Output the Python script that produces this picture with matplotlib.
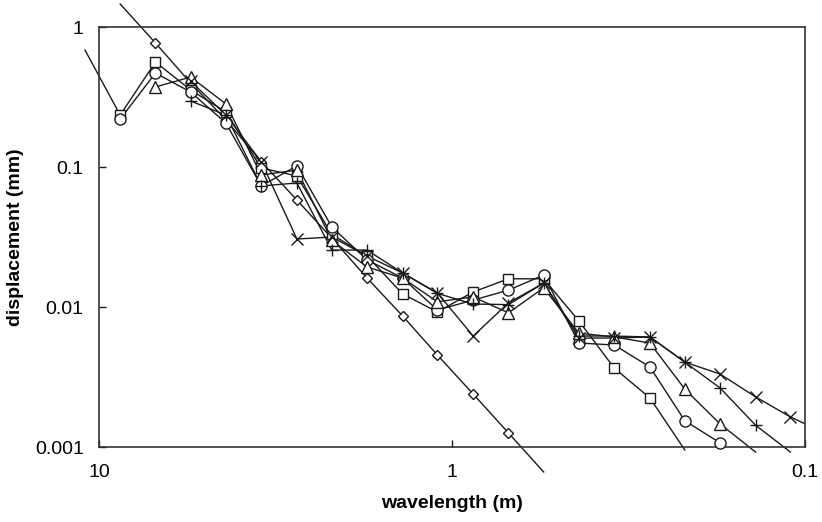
"""
Displacement spectra per third-octave wavelength band, log-log with the
wavelength axis running from long to short.
"""

import matplotlib
matplotlib.use("Agg")

import matplotlib.pyplot as plt
import numpy as np
from matplotlib.transforms import Bbox, TransformedBbox

nan = np.nan

# band centre wavelengths (m); the first and last bands fall just outside the axis range
wavelength = [10.96, 8.71, 6.92, 5.50, 4.37, 3.47, 2.75, 2.19, 1.74, 1.38, 1.10,
              0.871, 0.692, 0.550, 0.437, 0.347, 0.275, 0.219, 0.174, 0.138,
              0.110, 0.0871]

# displacement (mm) per band, NaN where a series has no value
disp_diamond = [nan, 1.46, 0.769, 0.398, 0.217, 0.109, 0.0581, 0.0310, 0.0161,
                0.00863, 0.00454, 0.00239, 0.00126, 0.000663,
                nan, nan, nan, nan, nan, nan, nan, nan]
disp_square = [0.685, 0.235, 0.562, 0.355, 0.247, 0.0984, 0.0863, 0.033, 0.0231,
               0.0124, 0.00922, 0.0128, 0.0159, 0.0159, 0.00794, 0.00366,
               0.00224, 0.000952, nan, nan, nan, nan]
disp_circle = [nan, 0.220, 0.469, 0.343, 0.206, 0.0732, 0.102, 0.0373, 0.0217,
               0.0161, 0.00952, 0.0112, 0.0132, 0.0169, 0.00553, 0.00535,
               0.00373, 0.00154, 0.00107, nan, nan, nan]
disp_triangle = [nan, nan, 0.373, 0.439, 0.282, 0.0877, 0.095, 0.030, 0.0193,
                 0.0161, 0.0109, 0.0118, 0.00908, 0.0137, 0.0065, 0.00611,
                 0.00553, 0.00259, 0.00146, 0.00092, nan, nan]
disp_plus = [nan, nan, nan, 0.296, 0.235, 0.0732, 0.0769, 0.0255, 0.0255,
             0.0175, 0.0125, 0.0105, 0.0104, 0.0148, 0.00621, 0.0062,
             0.00611, 0.00404, 0.00264, 0.00143, 0.00092, nan]
disp_cross = [nan, nan, nan, 0.41, 0.235, 0.109, 0.0306, 0.0316, 0.0231,
              0.0175, 0.0126, 0.0062, 0.0107, 0.0148, 0.0060, 0.0060,
              0.00611, 0.00404, 0.00332, 0.00228, 0.00164, 0.00124]

series = [
    (disp_diamond, "D", 5.5),
    (disp_square, "s", 7.5),
    (disp_circle, "o", 8),
    (disp_triangle, "^", 8),
    (disp_plus, "+", 9),
    (disp_cross, "x", 8),
]

x_ticks = [10, 1, 0.1]
x_tick_labels = ["10", "1", "0.1"]
y_ticks = [0.001, 0.01, 0.1, 1]
y_tick_labels = ["0.001", "0.01", "0.1", "1"]

plt.rcParams["font.family"] = ["Liberation Sans", "DejaVu Sans"]

INK = "#1a1a1a"

fig = plt.figure(figsize=(8.22, 5.22), dpi=100)
ax = fig.add_axes([99 / 822, 1 - 447 / 522, 706 / 822, 420 / 522])
ax.set_xscale("log")
ax.set_yscale("log")
ax.set_xlim(10, 0.1)
ax.set_ylim(0.001, 1)

# lines run on to out-of-range band values, but stop at the right frame edge
fig.canvas.draw()
x_right = ax.get_position().x1
line_clip = TransformedBbox(Bbox([[0, 0], [x_right, 1]]), fig.transFigure)

wl = np.array(wavelength)
for values, marker, size in series:
    d = np.array(values, dtype=float)
    ok = ~np.isnan(d)
    line, = ax.plot(wl[ok], d[ok], color=INK, linewidth=1.0, zorder=2)
    line.set_clip_box(line_clip)

    # markers only for points inside the plotted range
    inside = ok & (d >= 0.001) & (d <= 1) & (wl <= 10) & (wl >= 0.1)
    ax.plot(wl[inside], d[inside], linestyle="none", marker=marker,
            markersize=size, markerfacecolor="white", markeredgecolor=INK,
            markeredgewidth=1.0, clip_on=False, zorder=3)

ax.xaxis.set_major_locator(matplotlib.ticker.FixedLocator(x_ticks))
ax.xaxis.set_major_formatter(matplotlib.ticker.FixedFormatter(x_tick_labels))
ax.yaxis.set_major_locator(matplotlib.ticker.FixedLocator(y_ticks))
ax.yaxis.set_major_formatter(matplotlib.ticker.FixedFormatter(y_tick_labels))
ax.xaxis.set_minor_locator(matplotlib.ticker.NullLocator())
ax.yaxis.set_minor_locator(matplotlib.ticker.NullLocator())
ax.tick_params(direction="in", length=5, width=1.0, color=INK,
               labelsize=14, labelcolor="black")
ax.tick_params(axis="x", pad=12)
ax.tick_params(axis="y", pad=11)

for spine in ax.spines.values():
    spine.set_linewidth(1.2)
    spine.set_color("#333333")

ax.set_xlabel("wavelength (m)", fontsize=14, fontweight="bold", labelpad=10)
ax.set_ylabel("displacement (mm)", fontsize=14, fontweight="bold", labelpad=8)

fig.savefig("out.png", dpi=100)
